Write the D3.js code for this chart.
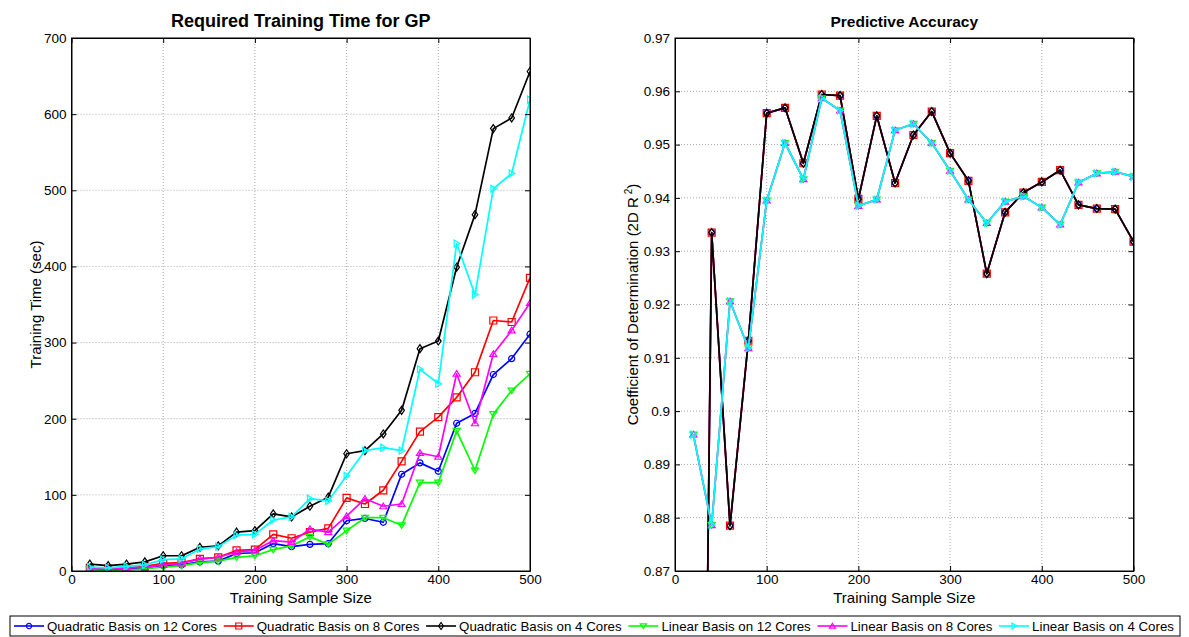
<!DOCTYPE html>
<html>
<head>
<meta charset="utf-8">
<script src="https://cdn.jsdelivr.net/npm/d3@7/dist/d3.min.js"></script>
<style>
  html, body { margin: 0; padding: 0; background: #fff; }
  svg { display: block; font-family: "Liberation Sans", Arial, sans-serif; }
</style>
</head>
<body>
<svg id="chart" width="1189" height="637"></svg>
<script>
// Training sample sizes shared by both panels
const sampleSizes = [20, 40, 60, 80, 100, 120, 140, 160, 180, 200, 220, 240, 260,
  280, 300, 320, 340, 360, 380, 400, 420, 440, 460, 480, 500];

// Training time (sec) per configuration
const timeQuad12 = [3, 2, 3, 4, 7, 8, 12, 13, 23, 24, 36, 32, 35, 36, 66, 69, 64, 127, 142, 131, 194, 207, 258, 279, 311];
const timeQuad8  = [4, 3, 4, 6, 10, 11, 16, 18, 27, 28, 48, 43, 51, 56, 96, 88, 106, 144, 183, 202, 228, 261, 329, 327, 385];
const timeQuad4  = [9, 7, 9, 12, 20, 20, 31, 33, 51, 53, 75, 71, 85, 97, 154, 158, 180, 211, 292, 302, 399, 468, 581, 595, 656];
const timeLin12  = [2, 0, 1, 3, 5, 7, 11, 13, 18, 20, 28, 33, 45, 35, 53, 70, 70, 60, 116, 116, 184, 132, 206, 237, 259];
const timeLin8   = [3, 2, 4, 5, 8, 10, 16, 18, 25, 27, 40, 38, 55, 51, 72, 95, 85, 88, 155, 150, 259, 194, 285, 316, 352];
const timeLin4   = [5, 4, 6, 8, 15, 16, 29, 32, 47, 48, 67, 71, 95, 92, 125, 158, 162, 158, 265, 246, 430, 363, 502, 522, 619];

// Coefficient of determination (2D R^2), identical across core counts for a basis
const accQuadratic = [0.638, 0.9335, 0.8785, 0.9132, 0.9559, 0.9569, 0.9465, 0.9594, 0.9592, 0.9398,
  0.9554, 0.9428, 0.9518, 0.9562, 0.9484, 0.9432, 0.9258, 0.9373, 0.9410, 0.9430,
  0.9452, 0.9387, 0.9380, 0.9379, 0.9318];
const accLinear = [0.8956, 0.8786, 0.9206, 0.9118, 0.9395, 0.9503, 0.9435, 0.9587, 0.9564, 0.9385,
  0.9397, 0.9527, 0.9539, 0.9503, 0.9451, 0.9397, 0.9353, 0.9393, 0.9403, 0.9382,
  0.9350, 0.9429, 0.9446, 0.9449, 0.9440];

// Series names, colours and marker shapes
const seriesNames = ["Quadratic Basis on 12 Cores", "Quadratic Basis on 8 Cores", "Quadratic Basis on 4 Cores",
  "Linear Basis on 12 Cores", "Linear Basis on 8 Cores", "Linear Basis on 4 Cores"];
const seriesColors = ["#0000ff", "#ff0000", "#000000", "#00ff00", "#ff00ff", "#00ffff"];
const seriesMarkers = ["circle", "square", "diamond", "triDown", "triUp", "triRight"];
const seriesTimes = [timeQuad12, timeQuad8, timeQuad4, timeLin12, timeLin8, timeLin4];
const seriesAcc = [accQuadratic, accQuadratic, accQuadratic, accLinear, accLinear, accLinear];

// Axis ticks
const xTicks = [0, 100, 200, 300, 400, 500];
const timeTicks = [0, 100, 200, 300, 400, 500, 600, 700];
const accTicks = [0.87, 0.88, 0.89, 0.90, 0.91, 0.92, 0.93, 0.94, 0.95, 0.96, 0.97];
const accTickLabels = ["0.87", "0.88", "0.89", "0.9", "0.91", "0.92", "0.93", "0.94", "0.95", "0.96", "0.97"];

const svg = d3.select("#chart");
const plotTop = 38, plotBottom = 571;

function markerPath(type, s) {
  const h = s / 2;
  switch (type) {
    case "circle": return d3.symbol(d3.symbolCircle, Math.PI * h * h * 0.75)();
    case "square": return `M${-h},${-h}H${h}V${h}H${-h}Z`;
    case "diamond": return `M0,${-h - 0.5}L${h * 0.8},0L0,${h + 0.5}L${-h * 0.8},0Z`;
    case "triDown": return `M${-h},${-h * 0.7}L${h},${-h * 0.7}L0,${h * 0.9}Z`;
    case "triUp": return `M${-h},${h * 0.7}L${h},${h * 0.7}L0,${-h * 0.9}Z`;
    case "triRight": return `M${-h * 0.7},${-h}L${-h * 0.7},${h}L${h * 0.9},0Z`;
  }
}

function drawPanel(opts) {
  const { x0, x1, yDomain, yTicks, yLabels, seriesValues, title, titleSize, yLabel, clipId, labelX } = opts;
  const x = d3.scaleLinear().domain([0, 500]).range([x0, x1]);
  const y = d3.scaleLinear().domain(yDomain).range([plotBottom, plotTop]);
  const g = svg.append("g");

  // grid
  const grid = g.append("g").attr("stroke", "#a8a8a8").attr("stroke-width", 1)
    .attr("stroke-dasharray", "1,2");
  xTicks.slice(1, -1).forEach(t => grid.append("line")
    .attr("x1", x(t)).attr("x2", x(t)).attr("y1", plotTop).attr("y2", plotBottom));
  yTicks.slice(1, -1).forEach(t => grid.append("line")
    .attr("x1", x0).attr("x2", x1).attr("y1", y(t)).attr("y2", y(t)));

  // clip region for the data
  svg.append("defs").append("clipPath").attr("id", clipId)
    .append("rect").attr("x", x0).attr("y", plotTop).attr("width", x1 - x0).attr("height", plotBottom - plotTop);

  const plot = g.append("g").attr("clip-path", `url(#${clipId})`);
  const line = d3.line().x((d, i) => x(sampleSizes[i])).y(d => y(d));
  seriesValues.forEach((vals, k) => {
    plot.append("path").datum(vals)
      .attr("d", line).attr("fill", "none")
      .attr("stroke", seriesColors[k]).attr("stroke-width", 1.7)
      .attr("stroke-linejoin", "round");
    plot.selectAll(null).data(vals).enter().append("path")
      .attr("transform", (d, i) => `translate(${x(sampleSizes[i])},${y(d)})`)
      .attr("d", markerPath(seriesMarkers[k], 7))
      .attr("fill", "none").attr("stroke", seriesColors[k]).attr("stroke-width", 1.2);
  });

  // axes with inward ticks on all four sides
  const tickLen = -5;
  g.append("g").attr("transform", `translate(0,${plotBottom})`)
    .call(d3.axisBottom(x).tickValues(xTicks).tickSize(tickLen).tickSizeOuter(0).tickPadding(3));
  g.append("g").attr("transform", `translate(0,${plotTop})`)
    .call(d3.axisTop(x).tickValues(xTicks).tickSize(tickLen).tickSizeOuter(0).tickFormat(""));
  g.append("g").attr("transform", `translate(${x0},0)`)
    .call(d3.axisLeft(y).tickValues(yTicks).tickSize(tickLen).tickSizeOuter(0).tickPadding(5)
      .tickFormat((d, i) => yLabels[i]));
  g.append("g").attr("transform", `translate(${x1},0)`)
    .call(d3.axisRight(y).tickValues(yTicks).tickSize(tickLen).tickSizeOuter(0).tickFormat(""));
  g.selectAll(".domain").attr("stroke", "#000").attr("stroke-width", 1);
  g.selectAll(".tick line").attr("stroke", "#000");
  g.selectAll(".tick text").attr("font-size", 13.5).attr("fill", "#000")
    .attr("font-family", "'Liberation Sans', Arial, sans-serif");
  g.append("rect").attr("x", x0).attr("y", plotTop).attr("width", x1 - x0).attr("height", plotBottom - plotTop)
    .attr("fill", "none").attr("stroke", "#000").attr("stroke-width", 1);

  // titles and labels
  g.append("text").attr("x", (x0 + x1) / 2).attr("y", 27).attr("text-anchor", "middle")
    .attr("font-size", titleSize).attr("font-weight", "bold").text(title);
  g.append("text").attr("x", (x0 + x1) / 2).attr("y", 603).attr("text-anchor", "middle")
    .attr("font-size", 15).text("Training Sample Size");
  const yl = g.append("text")
    .attr("transform", `translate(${labelX},${(plotTop + plotBottom) / 2}) rotate(-90)`)
    .attr("text-anchor", "middle").attr("font-size", 15);
  yLabel(yl);
}

drawPanel({
  x0: 71.5, x1: 530, yDomain: [0, 700], yTicks: timeTicks, yLabels: timeTicks.map(String),
  seriesValues: seriesTimes, title: "Required Training Time for GP", titleSize: 18, clipId: "clipTime", labelX: 41,
  yLabel: t => t.text("Training Time (sec)")
});

drawPanel({
  x0: 675, x1: 1133.5, yDomain: [0.87, 0.97], yTicks: accTicks, yLabels: accTickLabels,
  seriesValues: seriesAcc, title: "Predictive Accuracy", titleSize: 15.5, clipId: "clipAcc", labelX: 638,
  yLabel: t => {
    t.append("tspan").text("Coefficient of Determination (2D R");
    t.append("tspan").attr("dy", -6).attr("dx", 3).attr("font-size", 10).text("2");
    t.append("tspan").attr("dy", 6).text(")");
  }
});

// legend along the bottom
const legend = svg.append("g");
const boxX0 = 10, boxX1 = 1180, boxY = 616, boxH = 20;
legend.append("rect").attr("x", boxX0).attr("y", boxY).attr("width", boxX1 - boxX0).attr("height", boxH)
  .attr("fill", "#fff").attr("stroke", "#000").attr("stroke-width", 1);
const items = legend.selectAll("g.item").data(seriesNames).enter().append("g").attr("class", "item");
items.append("text").attr("font-size", 13.3).attr("y", boxY + 15).text(d => d);
const widths = [];
items.select("text").each(function () { widths.push(this.getComputedTextLength()); });
const lineW = 30, textGap = 3;
const free = (boxX1 - 6) - (boxX0 + 4) - d3.sum(widths) - seriesNames.length * (lineW + textGap);
const gap = free / (seriesNames.length - 1);
let cx = boxX0 + 4;
items.each(function (d, k) {
  const it = d3.select(this);
  const my = boxY + boxH / 2;
  it.append("line").attr("x1", cx).attr("x2", cx + lineW).attr("y1", my).attr("y2", my)
    .attr("stroke", seriesColors[k]).attr("stroke-width", 1.6);
  it.append("path").attr("transform", `translate(${cx + lineW / 2},${my})`)
    .attr("d", markerPath(seriesMarkers[k], 6))
    .attr("fill", "none").attr("stroke", seriesColors[k]).attr("stroke-width", 1.2);
  it.select("text").attr("x", cx + lineW + textGap);
  cx += lineW + textGap + widths[k] + gap;
});
</script>
</body>
</html>
